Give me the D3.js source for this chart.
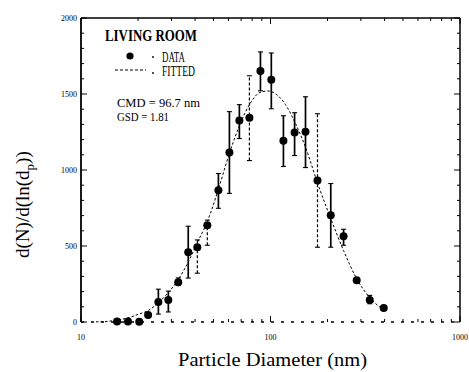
<!DOCTYPE html>
<html>
<head>
<meta charset="utf-8">
<script src="https://cdn.jsdelivr.net/npm/d3@7"></script>
<style>
  html, body { margin: 0; padding: 0; background: #fff; }
  svg { display: block; }
  text { font-family: "Liberation Serif", "DejaVu Serif", serif; fill: #000; }
</style>
</head>
<body>
<script>
// ---- data ----
const diameters = [15.5, 17.7, 20.3, 22.6, 25.6, 28.9, 32.6, 36.8, 41.1, 46.4, 53.1, 60.7, 68.5, 77.4, 88.5, 101, 117, 134, 153, 177, 208, 243, 285, 334, 396];
const counts    = [3, 3, 2, 46, 131, 144, 262, 459, 492, 636, 866, 1115, 1325, 1344, 1652, 1593, 1193, 1246, 1252, 931, 702, 564, 275, 144, 92];
const errLow    = [null, null, null, null, 52, 66, 240, 289, 321, 505, 748, 846, 1207, 1062, 1521, 1403, 1023, 1095, 1016, 492, 492, 505, null, 120, null];
const errHigh   = [null, null, null, null, 216, 203, 290, 630, 540, 670, 977, 1384, 1430, 1620, 1777, 1770, 1357, 1377, 1482, 1370, 911, 610, null, 175, null];
const errStyle  = ["s","s","s","s","s","s","s","s","d","d","s","s","s","d","s","s","s","s","s","d","s","s","s","s","s"];

const fitDiameters = [12, 14, 16, 18, 20, 22.6, 25, 28, 32.6, 37, 41, 46.4, 53, 60.7, 68.5, 77.4, 88, 97, 108, 120, 135, 153, 177, 208, 243, 285, 334, 396];
const fitCounts    = [1, 5, 15, 30, 50, 75, 115, 175, 280, 400, 520, 660, 870, 1110, 1290, 1430, 1510, 1520, 1495, 1430, 1310, 1150, 915, 680, 470, 285, 160, 80];

const yTicks = [0, 500, 1000, 1500, 2000];
const yTickLabels = ["0", "500", "1000", "1500", "2000"];
const xTicks = [10, 100, 1000];
const xTickLabels = ["10", "100", "1000"];

const title = "LIVING ROOM";
const legendItems = ["DATA", "FITTED"];
const statLines = ["CMD = 96.7 nm", "GSD = 1.81"];

// ---- layout ----
const W = 469, H = 372;
const L = 81, R = 460, T = 18, B = 322;

const svg = d3.select("body").append("svg").attr("width", W).attr("height", H);

const x = d3.scaleLog().domain([10, 1000]).range([L, R]);
const y = d3.scaleLinear().domain([0, 2000]).range([B, T]);

// frame
const g = svg.append("g").attr("stroke", "#000").attr("fill", "none");
g.append("line").attr("x1", L).attr("x2", R).attr("y1", T).attr("y2", T).attr("stroke-width", 1.5);
g.append("line").attr("x1", R).attr("x2", R).attr("y1", T).attr("y2", B).attr("stroke-width", 1.5);
g.append("line").attr("x1", L).attr("x2", L).attr("y1", T).attr("y2", B).attr("stroke-width", 1.8);
g.append("line").attr("x1", L).attr("x2", R).attr("y1", B).attr("y2", B).attr("stroke-width", 1.3).attr("stroke-dasharray", "3,7");

// x ticks (log minor) on top and bottom, inward
const xMinor = [];
[10, 100].forEach(dec => { for (let k = 2; k <= 9; k++) xMinor.push(dec * k); });
xMinor.forEach(v => {
  g.append("line").attr("x1", x(v)).attr("x2", x(v)).attr("y1", T).attr("y2", T + 3).attr("stroke-width", 1);
  g.append("line").attr("x1", x(v)).attr("x2", x(v)).attr("y1", B).attr("y2", B - 3).attr("stroke-width", 1);
});
xTicks.forEach(v => {
  g.append("line").attr("x1", x(v)).attr("x2", x(v)).attr("y1", T).attr("y2", T + 6).attr("stroke-width", 1);
  g.append("line").attr("x1", x(v)).attr("x2", x(v)).attr("y1", B).attr("y2", B - 6).attr("stroke-width", 1);
});
// y ticks
d3.range(0, 2001, 100).forEach(v => {
  const major = v % 500 === 0;
  const len = major ? 6 : 3;
  g.append("line").attr("x1", L).attr("x2", L + len).attr("y1", y(v)).attr("y2", y(v)).attr("stroke-width", 1);
  g.append("line").attr("x1", R).attr("x2", R - len).attr("y1", y(v)).attr("y2", y(v)).attr("stroke-width", 1);
});

// tick labels
svg.selectAll(".ytl").data(yTicks).enter().append("text")
  .attr("x", L - 4).attr("y", d => y(d) + 3)
  .attr("text-anchor", "end").attr("font-size", 8)
  .text((d, i) => yTickLabels[i]);
svg.selectAll(".xtl").data(xTicks).enter().append("text")
  .attr("x", d => x(d)).attr("y", 340)
  .attr("text-anchor", "middle").attr("font-size", 8)
  .text((d, i) => xTickLabels[i]);

// axis titles
svg.append("text").attr("x", 178).attr("y", 366)
  .attr("font-size", 19).attr("textLength", 189).attr("lengthAdjust", "spacingAndGlyphs")
  .text("Particle Diameter (nm)");

const yl = svg.append("text")
  .attr("transform", "translate(29,258) rotate(-90)")
  .attr("font-size", 19);
yl.append("tspan").text("d(N)/d(ln(d");
yl.append("tspan").attr("font-size", 13).attr("dy", 5).text("p");
yl.append("tspan").attr("dy", -5).text("))");

// fitted curve
const line = d3.line().x(d => x(d[0])).y(d => y(d[1])).curve(d3.curveMonotoneX);
svg.append("path")
  .datum(fitDiameters.map((d, i) => [d, fitCounts[i]]))
  .attr("d", line).attr("fill", "none").attr("stroke", "#000")
  .attr("stroke-width", 1).attr("stroke-dasharray", "2.5,2");

// error bars
const eb = svg.append("g").attr("stroke", "#000");
diameters.forEach((d, i) => {
  if (errLow[i] == null) return;
  const dotted = errStyle[i] === "d";
  const cx = x(d);
  eb.append("line").attr("x1", cx).attr("x2", cx).attr("y1", y(errLow[i])).attr("y2", y(errHigh[i]))
    .attr("stroke-width", dotted ? 1.2 : 1.7).attr("stroke-dasharray", dotted ? "3,2" : null);
  [errLow[i], errHigh[i]].forEach(v => {
    eb.append("line").attr("x1", cx - 2.5).attr("x2", cx + 2.5).attr("y1", y(v)).attr("y2", y(v)).attr("stroke-width", 1.1);
  });
});

// points
svg.selectAll(".pt").data(diameters).enter().append("circle")
  .attr("cx", d => x(d)).attr("cy", (d, i) => y(counts[i])).attr("r", 4).attr("fill", "#000");

// legend
svg.append("text").attr("x", 105).attr("y", 41).attr("font-size", 16).attr("font-weight", "bold")
  .attr("textLength", 92).attr("lengthAdjust", "spacingAndGlyphs").text(title);
svg.append("circle").attr("cx", 130).attr("cy", 56).attr("r", 3.6).attr("fill", "#000");
svg.append("circle").attr("cx", 153).attr("cy", 57).attr("r", 0.9).attr("fill", "#000");
svg.append("text").attr("x", 162).attr("y", 62).attr("font-size", 14)
  .attr("textLength", 23).attr("lengthAdjust", "spacingAndGlyphs").text(legendItems[0]);
svg.append("line").attr("x1", 115).attr("x2", 146).attr("y1", 70).attr("y2", 70)
  .attr("stroke", "#000").attr("stroke-width", 1).attr("stroke-dasharray", "3,2");
svg.append("circle").attr("cx", 153).attr("cy", 73).attr("r", 0.9).attr("fill", "#000");
svg.append("text").attr("x", 162).attr("y", 76).attr("font-size", 14)
  .attr("textLength", 33).attr("lengthAdjust", "spacingAndGlyphs").text(legendItems[1]);
svg.append("text").attr("x", 117).attr("y", 107).attr("font-size", 13)
  .attr("textLength", 83).attr("lengthAdjust", "spacingAndGlyphs").text(statLines[0]);
svg.append("text").attr("x", 117).attr("y", 121).attr("font-size", 13)
  .attr("textLength", 52).attr("lengthAdjust", "spacingAndGlyphs").text(statLines[1]);
</script>
</body>
</html>
